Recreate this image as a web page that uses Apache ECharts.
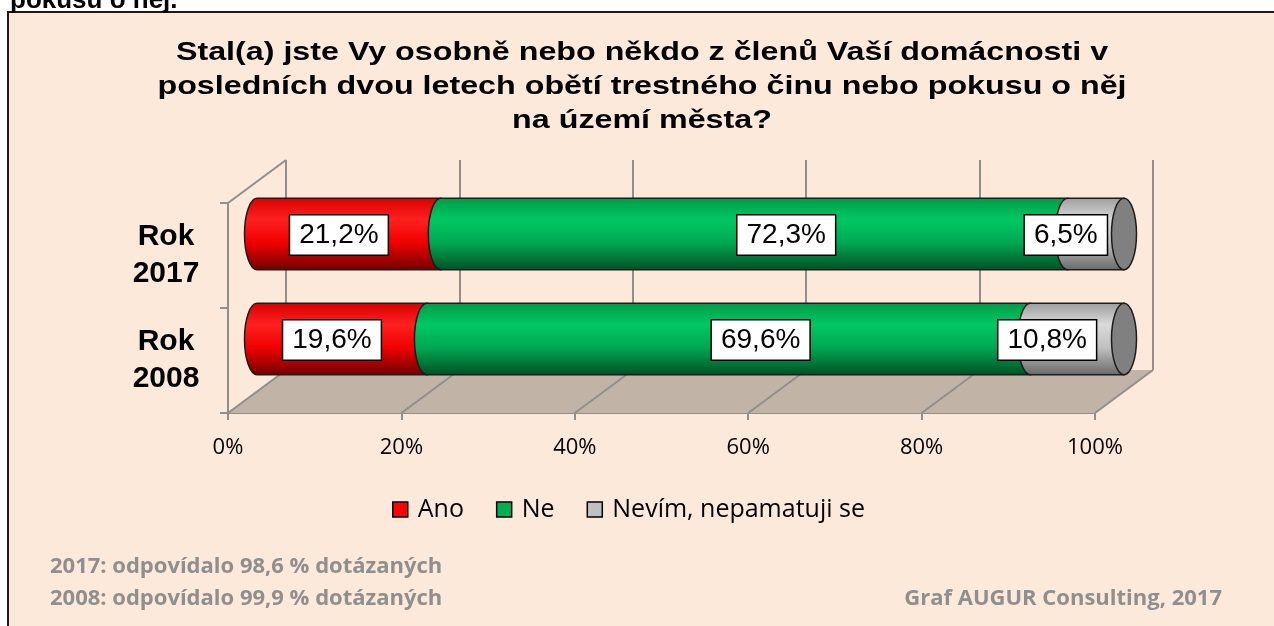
<!DOCTYPE html>
<html>
<head>
<meta charset="utf-8">
<script src="https://cdn.jsdelivr.net/npm/echarts@6/dist/echarts.min.js"></script>
<style>
  html, body { margin: 0; padding: 0; background: #fff; }
  #chart { width: 1274px; height: 626px; }
</style>
</head>
<body>
<div id="chart"></div>
<script>
// values
const categories = ['Rok\n2017', 'Rok\n2008']
const ano = [21.2, 19.6]
const ne = [72.3, 69.6]
const nevim = [6.5, 10.8]
const seriesNames = ['Ano', 'Ne', 'Nevím, nepamatuji se']
const xTicks = [0, 20, 40, 60, 80, 100]

// 3d look: front plane, bars in the middle, gridlines on the back wall
const FRONT = { left: 228, top: 203, width: 867, height: 210 }
const DEPTH = [58, -43]
const BAR_RATIO = 0.68
const CAP_RX = 12.5
const LABEL_SHIFT = [-10, 32, -30]

const GRID_COLOR = '#8f8f8f'
const palette = [
  { legend: '#ff0000', stops: ['#d80000', '#ff2020', '#f00000', '#6e0000'] },
  { legend: '#00b050', stops: ['#009a48', '#00c862', '#00a852', '#004f24'] },
  { legend: '#c0c0c0', stops: ['#9c9c9c', '#dadada', '#c0c0c0', '#686868'] }
]

function gradient(stops) {
  return new echarts.graphic.LinearGradient(0, 0, 0, 1, [
    { offset: 0, color: stops[0] },
    { offset: 0.3, color: stops[1] },
    { offset: 0.62, color: stops[2] },
    { offset: 1, color: stops[3] }
  ])
}

function fmt(v) {
  return v.toFixed(1).replace('.', ',') + '%'
}

// stacked segments [row, start, end, value]
const values = [ano, ne, nevim]
const segments = values.map((arr, s) => arr.map((v, row) => {
  let start = 0
  for (let k = 0; k < s; k++) start += values[k][row]
  return [row, start, start + v, v]
}))

function gridAt(k) {
  return {
    left: FRONT.left + DEPTH[0] * k / 2,
    top: FRONT.top + DEPTH[1] * k / 2,
    width: FRONT.width,
    height: FRONT.height
  }
}

function renderCylinder(params, api) {
  const s = params.seriesIndex - 1
  const row = api.value(0)
  const p0 = api.coord([api.value(1), row])
  const p1 = api.coord([api.value(2), row])
  const h = api.size([0, 1])[1] * BAR_RATIO
  const top = p0[1] - h / 2
  const bottom = p0[1] + h / 2
  const ry = h / 2
  const children = [{
    type: 'path',
    shape: {
      pathData: `M${p0[0]},${top} A${CAP_RX},${ry} 0 0 0 ${p0[0]},${bottom} L${p1[0]},${bottom} L${p1[0]},${top} Z`
    },
    style: { fill: gradient(palette[s].stops), stroke: '#1c1c1c', lineWidth: 1.5 }
  }]
  if (s === values.length - 1) {
    children.push({
      type: 'path',
      shape: {
        pathData: `M${p1[0]},${top} A${CAP_RX},${ry} 0 1 1 ${p1[0]},${bottom} A${CAP_RX},${ry} 0 1 1 ${p1[0]},${top} Z`
      },
      style: { fill: '#808080', stroke: '#1c1c1c', lineWidth: 1.5 }
    })
  }
  children.push({
    type: 'text',
    z2: 10,
    style: {
      text: fmt(api.value(3)),
      x: (p0[0] + p1[0]) / 2 + LABEL_SHIFT[s],
      y: p0[1] + 1,
      align: 'center',
      verticalAlign: 'middle',
      font: '28px "Liberation Sans", Arial, sans-serif',
      fill: '#000',
      backgroundColor: '#fff',
      borderColor: '#000',
      borderWidth: 1.5,
      padding: [6, 9, 5, 9]
    }
  })
  return { type: 'group', children }
}

function renderFloor(params, api) {
  const cs = params.coordSys
  const bottom = cs.y + cs.height
  const top = cs.y
  const x0 = api.coord([0, 0])[0]
  const x1 = api.coord([100, 0])[0]
  const children = [{
    type: 'polygon',
    shape: {
      points: [[x0, bottom], [x1, bottom], [x1 + DEPTH[0], bottom + DEPTH[1]], [x0 + DEPTH[0], bottom + DEPTH[1]]]
    },
    style: { fill: '#c2b3a7' }
  }, {
    type: 'line',
    shape: { x1: x0, y1: top, x2: x0 + DEPTH[0], y2: top + DEPTH[1] },
    style: { stroke: GRID_COLOR, lineWidth: 2 }
  }]
  xTicks.forEach(t => {
    const x = api.coord([t, 0])[0]
    children.push({
      type: 'line',
      shape: { x1: x, y1: bottom, x2: x + DEPTH[0], y2: bottom + DEPTH[1] },
      style: { stroke: GRID_COLOR, lineWidth: 2 }
    })
  })
  return { type: 'group', children }
}

const chart = echarts.init(document.getElementById('chart'))

const footFont = 'bold 22px "Open Sans", sans-serif'
const titleText = 'Stal(a) jste Vy osobně nebo někdo z členů Vaší domácnosti v\nposledních dvou letech obětí trestného činu nebo pokusu o něj\nna území města?'

chart.setOption({
  animation: false,
  legend: {
    left: 392,
    top: 497,
    padding: 0,
    icon: 'rect',
    itemWidth: 15,
    itemHeight: 15,
    itemGap: 32,
    selectedMode: false,
    itemStyle: { borderColor: '#000', borderWidth: 1.5 },
    textStyle: {
      fontFamily: '"Open Sans", sans-serif',
      fontSize: 25,
      color: '#000',
      padding: [0, 0, 0, 5]
    },
    data: seriesNames
  },
  grid: [gridAt(0), gridAt(1), gridAt(2)],
  xAxis: [
    {
      gridIndex: 0, type: 'value', min: 0, max: 100, interval: 20,
      axisLine: { show: true, lineStyle: { color: GRID_COLOR, width: 2 } },
      axisTick: { show: true, length: 7, lineStyle: { color: GRID_COLOR, width: 2 } },
      splitLine: { show: false },
      axisLabel: {
        formatter: '{value}%', margin: 24, color: '#000',
        fontFamily: '"Open Sans", sans-serif', fontSize: 22
      }
    },
    { gridIndex: 1, type: 'value', min: 0, max: 100, show: false },
    {
      gridIndex: 2, type: 'value', min: 0, max: 100, interval: 20,
      axisLine: { show: false }, axisTick: { show: false }, axisLabel: { show: false },
      splitLine: { show: true, lineStyle: { color: GRID_COLOR, width: 2 } }
    }
  ],
  yAxis: [
    {
      gridIndex: 0, type: 'category', data: categories, inverse: true,
      axisLine: { show: true, lineStyle: { color: GRID_COLOR, width: 2 } },
      axisTick: { show: true, length: 8, lineStyle: { color: GRID_COLOR, width: 2 } },
      axisLabel: {
        margin: 62, align: 'center', color: '#000',
        fontFamily: '"Liberation Sans", Arial, sans-serif',
        fontSize: 30, fontWeight: 'bold', lineHeight: 37
      }
    },
    { gridIndex: 1, type: 'category', data: categories, inverse: true, show: false },
    { gridIndex: 2, type: 'category', data: categories, inverse: true, show: false }
  ],
  graphic: [
    {
      type: 'rect', z: -100, silent: true,
      shape: { x: 8, y: 12, width: 1400, height: 800 },
      style: { fill: '#fde9d9', stroke: '#1a1a1a', lineWidth: 2 }
    },
    {
      type: 'text', left: 10, top: -12,
      style: { text: 'pokusu o něj.', font: 'bold 26px "Liberation Sans", Arial, sans-serif', fill: '#000' }
    },
    {
      // title, slightly stretched like the original picture
      type: 'text', x: 642, y: 36, scaleX: 1.24,
      style: {
        text: titleText,
        align: 'center',
        verticalAlign: 'top',
        font: 'bold 26px "Liberation Sans", Arial, sans-serif',
        lineHeight: 34,
        fill: '#000'
      }
    },
    {
      type: 'text', left: 50, top: 556,
      style: { text: '2017: odpovídalo 98,6 % dotázaných', font: footFont, fill: '#8f8f8f' }
    },
    {
      type: 'text', left: 50, top: 588,
      style: { text: '2008: odpovídalo 99,9 % dotázaných', font: footFont, fill: '#8f8f8f' }
    },
    {
      type: 'text', right: 52, top: 588,
      style: { text: 'Graf AUGUR Consulting, 2017', font: footFont, fill: '#8f8f8f' }
    }
  ],
  series: [
    {
      type: 'custom', name: 'floor', xAxisIndex: 0, yAxisIndex: 0,
      silent: true, renderItem: renderFloor, data: [[0]], z: 1
    }
  ].concat(seriesNames.map((name, s) => ({
    type: 'custom',
    name,
    xAxisIndex: 1,
    yAxisIndex: 1,
    itemStyle: { color: palette[s].legend },
    renderItem: renderCylinder,
    encode: { x: [1, 2], y: 0 },
    data: segments[s]
  })))
})
</script>
</body>
</html>
